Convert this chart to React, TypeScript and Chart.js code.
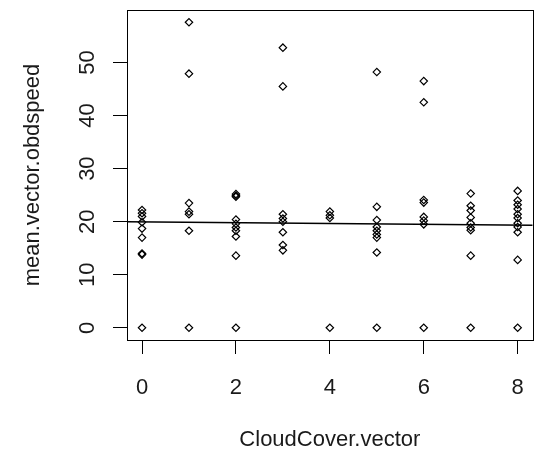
import React, { useEffect, useRef } from "react";
import { Chart, registerables } from "chart.js";

Chart.register(...registerables);

// Observed mean speeds for each cloud cover level (oktas)
const cloudLevels = [0, 1, 2, 3, 4, 5, 6, 7, 8];
const speedsCC0 = [22.2, 21.6, 21.0, 19.9, 18.7, 17.0, 14.0, 13.8, 0];
const speedsCC1 = [57.6, 47.9, 23.5, 21.9, 21.4, 18.3, 0];
const speedsCC2 = [25.2, 24.9, 24.7, 20.4, 19.6, 18.9, 18.3, 17.2, 13.6, 0];
const speedsCC3 = [52.8, 45.5, 21.4, 20.6, 20.0, 18.0, 15.6, 14.6];
const speedsCC4 = [21.9, 21.2, 20.7, 0];
const speedsCC5 = [48.2, 22.8, 20.3, 19.0, 18.3, 17.6, 17.0, 14.2, 0];
const speedsCC6 = [46.5, 42.5, 24.1, 23.6, 20.9, 20.2, 19.5, 0];
const speedsCC7 = [25.3, 23.0, 22.1, 20.8, 19.7, 18.9, 18.4, 13.6, 0];
const speedsCC8 = [25.8, 24.0, 23.2, 22.4, 21.4, 20.7, 19.7, 19.0, 18.0, 12.8, 0];
const speedsByLevel = [
  speedsCC0, speedsCC1, speedsCC2, speedsCC3, speedsCC4,
  speedsCC5, speedsCC6, speedsCC7, speedsCC8,
];

// Fitted regression line (abline) endpoints across the plot range
const fitX = [-0.32, 8.32];
const fitY = [20.0, 19.34];

const xTicks = [0, 2, 4, 6, 8];
const yTicks = [0, 10, 20, 30, 40, 50];

const FONT = "'Liberation Sans', Arial, sans-serif";
const FONT_SIZE = 22;
const TEXT = "#1a1a1a";

export default function App() {
  const ref = useRef<HTMLCanvasElement | null>(null);

  useEffect(() => {
    if (!ref.current) return;
    const points: { x: number; y: number }[] = [];
    cloudLevels.forEach((lvl, i) => {
      speedsByLevel[i].forEach((v) => points.push({ x: lvl, y: v }));
    });
    const linePts = fitX.map((x, i) => ({ x, y: fitY[i] }));

    const boxAndYLabels = {
      id: "boxAndYLabels",
      afterDraw(chart: any) {
        const { ctx, chartArea } = chart;
        const ys = chart.scales.y;
        ctx.save();
        ctx.strokeStyle = "#000";
        ctx.lineWidth = 1;
        ctx.strokeRect(
          Math.round(chartArea.left) + 0.5,
          Math.round(chartArea.top) + 0.5,
          Math.round(chartArea.right - chartArea.left),
          Math.round(chartArea.bottom - chartArea.top)
        );
        ctx.fillStyle = TEXT;
        ctx.font = `${FONT_SIZE}px ${FONT}`;
        ctx.textAlign = "center";
        ctx.textBaseline = "middle";
        yTicks.forEach((t) => {
          const py = ys.getPixelForValue(t);
          ctx.save();
          ctx.translate(88, py);
          ctx.rotate(-Math.PI / 2);
          ctx.fillText(String(t), 0, 0);
          ctx.restore();
        });
        ctx.restore();
      },
    };

    const chart = new Chart(ref.current, {
      type: "scatter",
      data: {
        datasets: [
          {
            type: "scatter",
            data: points,
            pointStyle: "rectRot",
            pointRadius: 3.7,
            pointBorderWidth: 1.2,
            borderColor: "#000",
            backgroundColor: "rgba(0,0,0,0)",
            pointBackgroundColor: "rgba(0,0,0,0)",
            pointBorderColor: "#000",
          } as any,
          {
            type: "line",
            data: linePts,
            borderColor: "#000",
            borderWidth: 1.5,
            pointRadius: 0,
            fill: false,
            tension: 0,
          } as any,
        ],
      },
      options: {
        responsive: false,
        animation: false,
        events: [],
        layout: { padding: { left: 0, top: 10, right: 6, bottom: 0 } },
        plugins: {
          legend: { display: false },
          tooltip: { enabled: false },
        },
        scales: {
          x: {
            type: "linear",
            min: -0.32,
            max: 8.32,
            afterBuildTicks: (s: any) => {
              s.ticks = xTicks.map((v) => ({ value: v }));
            },
            afterFit: (s: any) => {
              s.height = 114;
            },
            grid: {
              display: true,
              drawOnChartArea: false,
              drawTicks: true,
              tickLength: 14,
              color: "#000",
              lineWidth: 1,
            },
            border: { display: true, color: "#000", width: 1 },
            ticks: {
              color: TEXT,
              font: { family: FONT, size: FONT_SIZE },
              padding: 21,
              maxRotation: 0,
              minRotation: 0,
              callback: (v: any) => String(v),
            },
            title: {
              display: true,
              text: "CloudCover.vector",
              color: TEXT,
              font: { family: FONT, size: FONT_SIZE },
              padding: { top: 0, bottom: 1 },
            },
          },
          y: {
            type: "linear",
            min: -2.3,
            max: 59.9,
            afterBuildTicks: (s: any) => {
              s.ticks = yTicks.map((v) => ({ value: v }));
            },
            afterFit: (s: any) => {
              s.width = 127;
            },
            grid: {
              display: true,
              drawOnChartArea: false,
              drawTicks: true,
              tickLength: 14,
              color: "#000",
              lineWidth: 1,
            },
            border: { display: true, color: "#000", width: 1 },
            ticks: { display: false },
            title: {
              display: true,
              text: "mean.vector.obdspeed",
              color: TEXT,
              font: { family: FONT, size: FONT_SIZE },
              padding: { top: 20, bottom: 0 },
            },
          },
        },
      },
      plugins: [boxAndYLabels],
    } as any);
    return () => chart.destroy();
  }, []);

  return (
    <div style={{ position: "fixed", left: 0, top: 0, width: 545, height: 454, background: "#fff" }}>
      <canvas ref={ref} width={545} height={454} style={{ display: "block" }} />
    </div>
  );
}
